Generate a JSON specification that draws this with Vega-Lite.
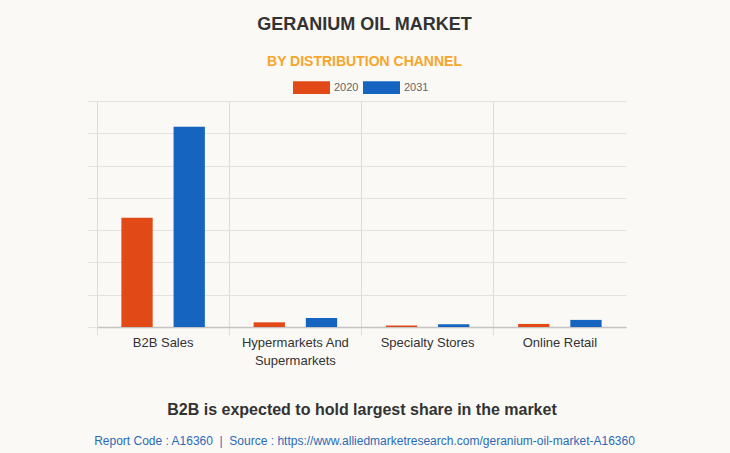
{
  "$schema": "https://vega.github.io/schema/vega-lite/v6.json",
  "width": 529,
  "height": 226,
  "autosize": {"type": "none"},
  "padding": {"left": 97, "top": 101, "right": 104, "bottom": 126},
  "background": "#faf9f5",
  "title": {
    "text": "GERANIUM OIL MARKET",
    "subtitle": "BY DISTRIBUTION CHANNEL",
    "anchor": "middle",
    "dx": 3,
    "fontSize": 18,
    "fontWeight": "bold",
    "color": "#333333",
    "font": "Liberation Sans",
    "subtitleFont": "Liberation Sans",
    "subtitleFontSize": 14,
    "subtitleFontWeight": "bold",
    "subtitleColor": "#f7a52b",
    "subtitlePadding": 21,
    "offset": -51
  },
  "data": {
    "values": [
      {"channel": "B2B Sales", "year": "2020", "value": 33.8},
      {"channel": "B2B Sales", "year": "2031", "value": 62.0},
      {"channel": "Hypermarkets And Supermarkets", "year": "2020", "value": 1.45},
      {"channel": "Hypermarkets And Supermarkets", "year": "2031", "value": 2.8},
      {"channel": "Specialty Stores", "year": "2020", "value": 0.45},
      {"channel": "Specialty Stores", "year": "2031", "value": 0.85},
      {"channel": "Online Retail", "year": "2020", "value": 0.95},
      {"channel": "Online Retail", "year": "2031", "value": 2.2}
    ]
  },
  "encoding": {
    "y": {
      "field": "value",
      "type": "quantitative",
      "scale": {"domain": [0, 70], "nice": false},
      "axis": {
        "values": [0, 10, 20, 30, 40, 50, 60, 70],
        "labels": false,
        "domain": false,
        "tickSize": 9,
        "tickColor": "#e2e2e2",
        "gridColor": "#e2e2e2",
        "title": null
      }
    }
  },
  "layer": [
    {
      "mark": {"type": "bar"},
      "encoding": {
        "x": {
          "field": "channel",
          "type": "nominal",
          "sort": null,
          "scale": {"paddingInner": 0, "paddingOuter": 0},
          "axis": {
            "orient": "bottom",
            "bandPosition": 0,
            "labelAngle": 0,
            "labelFont": "Liberation Sans",
            "labelFontSize": 13,
            "labelColor": "#333333",
            "labelPadding": 1,
            "labelLineHeight": 18,
            "labelExpr": "datum.value == 'Hypermarkets And Supermarkets' ? ['Hypermarkets And', 'Supermarkets'] : datum.value",
            "tickSize": 8,
            "tickColor": "#dddddd",
            "grid": true,
            "gridColor": "#dddddd",
            "domainColor": "#c4c4c4",
            "domainWidth": 1.5,
            "title": "B2B is expected to hold largest share in the market",
            "titleFont": "Liberation Sans",
            "titleFontSize": 16,
            "titleFontWeight": "bold",
            "titleColor": "#333333",
            "titlePadding": 34
          }
        },
        "xOffset": {
          "field": "year",
          "type": "nominal",
          "scale": {"paddingInner": 0.4, "paddingOuter": 0.467}
        },
        "color": {
          "field": "year",
          "type": "nominal",
          "scale": {"domain": ["2020", "2031"], "range": ["#e14a17", "#1565c0"]},
          "legend": {
            "orient": "none",
            "legendX": 196,
            "legendY": -32,
            "direction": "horizontal",
            "title": null,
            "padding": 0,
            "symbolType": "M-1,-0.34H1V0.34H-1Z",
            "symbolSize": 1369,
            "symbolStrokeWidth": 0,
            "symbolOpacity": 1,
            "labelFont": "Liberation Sans",
            "labelFontSize": 11,
            "labelColor": "#666666",
            "labelOffset": 4,
            "columnPadding": 4
          }
        }
      }
    },
    {
      "mark": {"type": "bar", "opacity": 0},
      "encoding": {
        "x": {
          "field": "channel",
          "type": "nominal",
          "sort": null,
          "axis": {
            "orient": "bottom",
            "labels": false,
            "ticks": false,
            "domain": false,
            "grid": false,
            "title": "Report Code : A16360 \u00a0|\u00a0 Source : https://www.alliedmarketresearch.com/geranium-oil-market-A16360",
            "titleFont": "Liberation Sans",
            "titleFontSize": 12,
            "titleFontWeight": "normal",
            "titleColor": "#2a6ab5",
            "titlePadding": 108,
            "titleX": 267
          }
        }
      }
    }
  ],
  "resolve": {"scale": {"x": "independent"}, "axis": {"x": "independent"}},
  "config": {"view": {"stroke": null}}
}
